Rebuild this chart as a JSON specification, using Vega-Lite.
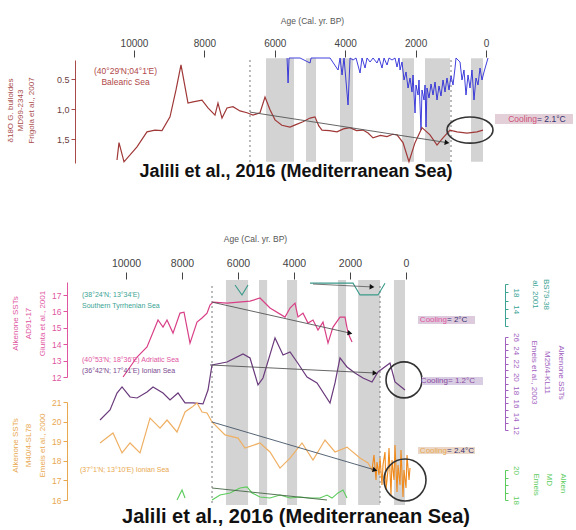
{
"$schema": "https://vega.github.io/schema/vega-lite/v6.json",
"width": 576, "height": 530, "autosize": "none", "padding": 0,
"background": "#ffffff",
"config": {"font": "Liberation Sans", "view": {"stroke": null}, "axis": {"grid": false, "labelFont": "Liberation Sans", "titleFont": "Liberation Sans"}},
"resolve": {"scale": {"x": "independent", "y": "independent", "color": "independent"}, "axis": {"x": "independent", "y": "independent"}, "legend": {"color": "independent"}},
"datasets": {
"bandsTop": [{"age":6250,"age2":5455},{"age":5114,"age2":4830},{"age":4148,"age2":3778},{"age":2386,"age2":2045},{"age":1733,"age2":1023},{"age":426,"age2":85}],
"bandsBot": [{"age":6430,"age2":5640},{"age":5250,"age2":4960},{"age":4250,"age2":3890},{"age":2430,"age2":2140},{"age":1710,"age2":930},{"age":430,"age2":36}],
"dashTop": [{"age":6705},{"age":994}],
"dashBot": [{"age":6928},{"age":928}],
"red": [{"age":10483,"d18o":1.85},{"age":10426,"d18o":1.56},{"age":10284,"d18o":1.88},{"age":9915,"d18o":1.63},{"age":9631,"d18o":1.38},{"age":9403,"d18o":1.35},{"age":9205,"d18o":1.36},{"age":8977,"d18o":1.13},{"age":8807,"d18o":0.68},{"age":8665,"d18o":0.26},{"age":8466,"d18o":0.90},{"age":8324,"d18o":0.88},{"age":8068,"d18o":0.85},{"age":7898,"d18o":0.98},{"age":7699,"d18o":1.10},{"age":7614,"d18o":0.90},{"age":7500,"d18o":1.15},{"age":7358,"d18o":0.98},{"age":7188,"d18o":0.96},{"age":6989,"d18o":1.03},{"age":6790,"d18o":1.06},{"age":6619,"d18o":1.10},{"age":6420,"d18o":1.06},{"age":6278,"d18o":0.80},{"age":6136,"d18o":1.01},{"age":5994,"d18o":1.18},{"age":5800,"d18o":1.27},{"age":5568,"d18o":1.30},{"age":5400,"d18o":1.26},{"age":5199,"d18o":1.21},{"age":5000,"d18o":1.15},{"age":4858,"d18o":1.13},{"age":4750,"d18o":1.28},{"age":4659,"d18o":1.35},{"age":4450,"d18o":1.36},{"age":4233,"d18o":1.38},{"age":4050,"d18o":1.33},{"age":3864,"d18o":1.31},{"age":3680,"d18o":1.36},{"age":3494,"d18o":1.35},{"age":3350,"d18o":1.40},{"age":3210,"d18o":1.48},{"age":3000,"d18o":1.44},{"age":2813,"d18o":1.46},{"age":2650,"d18o":1.42},{"age":2528,"d18o":1.43},{"age":2358,"d18o":1.56},{"age":2188,"d18o":1.88},{"age":2017,"d18o":1.56},{"age":1818,"d18o":1.31},{"age":1591,"d18o":1.43},{"age":1392,"d18o":1.60},{"age":1222,"d18o":1.48},{"age":1023,"d18o":1.35},{"age":824,"d18o":1.38},{"age":540,"d18o":1.40},{"age":256,"d18o":1.38},{"age":85,"d18o":1.35}],
"blue": [{"age":5652,"val":0},{"age":5623,"val":25},{"age":5595,"val":0},{"age":5282,"val":0},{"age":4998,"val":5},{"age":4970,"val":0},{"age":4430,"val":0},{"age":4203,"val":12},{"age":4146,"val":0},{"age":4090,"val":17},{"age":4033,"val":0},{"age":3919,"val":47},{"age":3862,"val":0},{"age":3777,"val":2},{"age":3692,"val":0},{"age":3578,"val":15},{"age":3522,"val":0},{"age":3436,"val":10},{"age":3380,"val":0},{"age":3294,"val":4},{"age":3209,"val":0},{"age":3096,"val":5},{"age":3039,"val":0},{"age":2954,"val":10},{"age":2897,"val":0},{"age":2812,"val":7},{"age":2755,"val":0},{"age":2670,"val":2},{"age":2584,"val":0},{"age":2528,"val":9},{"age":2471,"val":0},{"age":2442,"val":12},{"age":2386,"val":4},{"age":2329,"val":22},{"age":2272,"val":14},{"age":2215,"val":30},{"age":2158,"val":20},{"age":2102,"val":34},{"age":2073,"val":17},{"age":2016,"val":55},{"age":1988,"val":27},{"age":1931,"val":37},{"age":1903,"val":22},{"age":1846,"val":72},{"age":1818,"val":32},{"age":1761,"val":42},{"age":1732,"val":27},{"age":1704,"val":69},{"age":1676,"val":30},{"age":1619,"val":40},{"age":1562,"val":26},{"age":1505,"val":37},{"age":1448,"val":24},{"age":1392,"val":42},{"age":1335,"val":28},{"age":1278,"val":38},{"age":1221,"val":22},{"age":1164,"val":34},{"age":1108,"val":20},{"age":1051,"val":32},{"age":994,"val":18},{"age":937,"val":27},{"age":880,"val":10},{"age":852,"val":0},{"age":738,"val":4},{"age":682,"val":22},{"age":625,"val":12},{"age":568,"val":37},{"age":511,"val":17},{"age":454,"val":30},{"age":398,"val":12},{"age":341,"val":42},{"age":284,"val":20},{"age":227,"val":27},{"age":170,"val":10},{"age":114,"val":22},{"age":57,"val":14},{"age":0,"val":7},{"age":-57,"val":0}],
"pink": [{"age":10106,"sst":12.0},{"age":9606,"sst":13.22},{"age":9249,"sst":13.83},{"age":8856,"sst":15.48},{"age":8678,"sst":15.05},{"age":8535,"sst":15.48},{"age":8321,"sst":14.68},{"age":8071,"sst":15.90},{"age":7928,"sst":15.96},{"age":7714,"sst":14.07},{"age":7464,"sst":15.35},{"age":7285,"sst":15.60},{"age":7106,"sst":15.90},{"age":7000,"sst":16.39},{"age":6892,"sst":16.57},{"age":6392,"sst":16.51},{"age":5571,"sst":16.63},{"age":5214,"sst":16.82},{"age":4857,"sst":16.21},{"age":4321,"sst":15.66},{"age":4142,"sst":16.21},{"age":3964,"sst":16.51},{"age":3857,"sst":15.66},{"age":3678,"sst":15.90},{"age":3500,"sst":15.29},{"age":3321,"sst":15.48},{"age":3143,"sst":14.87},{"age":2964,"sst":15.35},{"age":2785,"sst":14.07},{"age":2607,"sst":15.05},{"age":2357,"sst":15.66},{"age":2178,"sst":15.66},{"age":2071,"sst":14.68},{"age":1928,"sst":14.13}],
"purple": [{"age":10928,"sst":13.51},{"age":10571,"sst":15.01},{"age":10321,"sst":17.57},{"age":10142,"sst":18.48},{"age":9856,"sst":16.97},{"age":9606,"sst":16.82},{"age":9249,"sst":17.72},{"age":9035,"sst":18.48},{"age":8678,"sst":17.57},{"age":8428,"sst":16.52},{"age":8142,"sst":17.57},{"age":7892,"sst":16.07},{"age":7606,"sst":16.07},{"age":7249,"sst":15.92},{"age":7071,"sst":18.02},{"age":6928,"sst":21.79},{"age":6392,"sst":22.24},{"age":5821,"sst":23.45},{"age":5571,"sst":22.84},{"age":5285,"sst":18.78},{"age":5107,"sst":19.83},{"age":4678,"sst":25.86},{"age":4392,"sst":23.30},{"age":4142,"sst":23.75},{"age":3892,"sst":22.24},{"age":3535,"sst":19.98},{"age":3178,"sst":19.08},{"age":2714,"sst":16.07},{"age":2535,"sst":19.08},{"age":2357,"sst":22.84},{"age":2107,"sst":21.49},{"age":1821,"sst":20.58},{"age":1536,"sst":19.83},{"age":1214,"sst":19.23},{"age":1000,"sst":20.73},{"age":571,"sst":22.09},{"age":393,"sst":19.23},{"age":36,"sst":18.02}],
"orange": [{"age":10928,"sst":18.91},{"age":10464,"sst":19.42},{"age":10142,"sst":18.40},{"age":9856,"sst":18.91},{"age":9499,"sst":18.40},{"age":9142,"sst":20.18},{"age":8785,"sst":19.67},{"age":8535,"sst":20.08},{"age":8178,"sst":19.47},{"age":7892,"sst":20.49},{"age":7642,"sst":20.74},{"age":7464,"sst":20.95},{"age":7285,"sst":20.49},{"age":7106,"sst":20.44},{"age":6928,"sst":19.98},{"age":6464,"sst":19.32},{"age":5999,"sst":19.16},{"age":5750,"sst":18.65},{"age":5214,"sst":18.91},{"age":4857,"sst":18.45},{"age":4500,"sst":17.63},{"age":4142,"sst":18.14},{"age":3714,"sst":18.91},{"age":3321,"sst":18.04},{"age":2893,"sst":19.06},{"age":2535,"sst":18.45},{"age":2107,"sst":18.70},{"age":1643,"sst":18.14},{"age":1357,"sst":17.89},{"age":1178,"sst":17.43}],
"orangeHR": [{"age":1214,"sst":17.53},{"age":1143,"sst":18.30},{"age":1071,"sst":17.02},{"age":1036,"sst":17.94},{"age":964,"sst":17.28},{"age":928,"sst":18.14},{"age":857,"sst":16.77},{"age":821,"sst":17.79},{"age":750,"sst":18.45},{"age":714,"sst":16.51},{"age":643,"sst":17.53},{"age":607,"sst":18.65},{"age":536,"sst":16.26},{"age":500,"sst":18.04},{"age":428,"sst":17.02},{"age":393,"sst":18.81},{"age":321,"sst":16.41},{"age":286,"sst":17.79},{"age":214,"sst":16.77},{"age":179,"sst":18.55},{"age":107,"sst":16.15},{"age":71,"sst":17.53},{"age":0,"sst":16.61},{"age":-36,"sst":18.30},{"age":-107,"sst":17.02},{"age":-143,"sst":17.63}],
"teal": [{"age":6107,"sst":19.76,"seg":"a"},{"age":5857,"sst":17.38,"seg":"a"},{"age":5643,"sst":19.76,"seg":"a"},{"age":3428,"sst":20.2,"seg":"b"},{"age":2714,"sst":20.2,"seg":"b"},{"age":1893,"sst":20.2,"seg":"b"},{"age":1643,"sst":17.4,"seg":"b"},{"age":1000,"sst":17.4,"seg":"b"},{"age":750,"sst":20.2,"seg":"b"}],
"green": [{"age":8178,"sst":18.0,"seg":"a"},{"age":7999,"sst":18.67,"seg":"a"},{"age":7892,"sst":18.13,"seg":"a"},{"age":6928,"sst":18.0,"seg":"b"},{"age":6642,"sst":18.33,"seg":"b"},{"age":6285,"sst":18.47,"seg":"b"},{"age":5928,"sst":18.8,"seg":"b"},{"age":5678,"sst":18.87,"seg":"b"},{"age":5499,"sst":18.47,"seg":"b"},{"age":5214,"sst":18.2,"seg":"b"},{"age":4857,"sst":18.13,"seg":"b"},{"age":4500,"sst":18.33,"seg":"b"},{"age":4142,"sst":18.13,"seg":"b"},{"age":3785,"sst":18.2,"seg":"b"},{"age":3428,"sst":18.13,"seg":"b"},{"age":3071,"sst":18.13,"seg":"b"},{"age":2821,"sst":18.33,"seg":"b"},{"age":2643,"sst":18.13,"seg":"b"},{"age":2428,"sst":18.47,"seg":"b"},{"age":2250,"sst":18.67,"seg":"b"},{"age":2107,"sst":18.13,"seg":"b"}]
},
"layer": [
{"data":{"name":"bandsTop"},"mark":{"type":"rect","color":"#d3d3d3"},
 "encoding":{"x":{"field":"age","type":"quantitative","scale":{"domain":[0,10000],"range":[486,134],"nice":false,"zero":false},
   "axis":{"orient":"top","offset":-57,"values":[0,2000,4000,6000,8000,10000],"format":"d","domain":false,"ticks":true,"tickSize":7,"tickColor":"#444444","labelFontSize":10,"labelColor":"#444444","labelPadding":2,"labelFlush":false,"labelOverlap":false,"grid":false,"title":"Age (Cal. yr. BP)","titleFontSize":8.5,"titleFontWeight":"normal","titleColor":"#555555","titleX":312,"titleY":-37,"titleAlign":"center","titleBaseline":"middle"}},
  "x2":{"field":"age2"},
  "y":{"datum":0.15,"type":"quantitative","scale":{"domain":[0.18,1.9],"range":[60,163],"nice":false,"zero":false},"axis":null},"y2":{"datum":1.88}}},
{"data":{"name":"dashTop"},"mark":{"type":"rule","color":"#777777","strokeDash":[2,3],"strokeWidth":1},
 "encoding":{"x":{"field":"age","type":"quantitative","scale":{"domain":[0,10000],"range":[486,134],"nice":false,"zero":false},"axis":null},
  "y":{"datum":0.18,"type":"quantitative","scale":{"domain":[0.18,1.9],"range":[60,163],"nice":false,"zero":false},"axis":null},"y2":{"datum":1.9}}},
{"data":{"name":"blue"},"mark":{"type":"line","color":"#2a2ad8","strokeWidth":0.9},
 "encoding":{"x":{"field":"age","type":"quantitative","scale":{"domain":[0,10000],"range":[486,134],"nice":false,"zero":false},"axis":null},
  "y":{"field":"val","type":"quantitative","scale":{"domain":[0,104],"range":[58,162],"nice":false,"zero":false},"axis":null}}},
{"data":{"name":"red"},"mark":{"type":"line","color":"#a03838","strokeWidth":1.2},
 "encoding":{"x":{"field":"age","type":"quantitative","scale":{"domain":[0,10000],"range":[486,134],"nice":false,"zero":false},"axis":null},
  "y":{"field":"d18o","type":"quantitative","scale":{"domain":[0.18,1.9],"range":[60,163],"nice":false,"zero":false},
   "axis":{"orient":"left","offset":-75,"values":[0.5,1.0,1.5],"labelExpr":"datum.value == 0.5 ? '0.5' : replace(format(datum.value, '.1f'), '.', ',')","domainColor":"#a84a4a","tickColor":"#a84a4a","tickSize":4,"labelColor":"#6a4040","labelFontSize":9,"labelPadding":2,"labelOverlap":false,"grid":false,"title":["δ18O G. bulloides","MD99-2343","Frigola et al., 2007"],"titleColor":"#a84a4a","titleFontSize":8,"titleFontWeight":"normal","titleLineHeight":10.5,"titleX":-69,"titleY":110,"titleAngle":-90,"titleAlign":"center","titleBaseline":"top"}}}},
{"data":{"values":[{"age":6705,"d18o":1.05},{"age":1108,"d18o":1.56}]},"mark":{"type":"line","color":"#555555","strokeWidth":0.9},
 "encoding":{"x":{"field":"age","type":"quantitative","scale":{"domain":[0,10000],"range":[486,134],"nice":false,"zero":false},"axis":null},
  "y":{"field":"d18o","type":"quantitative","scale":{"domain":[0.18,1.9],"range":[60,163],"nice":false,"zero":false},"axis":null}}},
{"data":{"values":[{"age":1108,"d18o":1.56}]},"mark":{"type":"point","shape":"triangle-right","filled":true,"color":"#111111","opacity":1,"size":30,"angle":9},
 "encoding":{"x":{"field":"age","type":"quantitative","scale":{"domain":[0,10000],"range":[486,134],"nice":false,"zero":false},"axis":null},
  "y":{"field":"d18o","type":"quantitative","scale":{"domain":[0.18,1.9],"range":[60,163],"nice":false,"zero":false},"axis":null}}},
{"data":{"values":[{"age":455,"d18o":1.35}]},"mark":{"type":"point","shape":"M-1,0A1,0.57,0,1,0,1,0A1,0.57,0,1,0,-1,0Z","filled":false,"stroke":"#333333","strokeWidth":1.6,"opacity":1,"size":2116},
 "encoding":{"x":{"field":"age","type":"quantitative","scale":{"domain":[0,10000],"range":[486,134],"nice":false,"zero":false},"axis":null},
  "y":{"field":"d18o","type":"quantitative","scale":{"domain":[0.18,1.9],"range":[60,163],"nice":false,"zero":false},"axis":null}}},
{"data":{"values":[{"age":10241,"d18o":0.363,"txt":"(40°29'N;04°1'E)"},{"age":10241,"d18o":0.547,"txt":"Balearic Sea"}]},"mark":{"type":"text","color":"#b04848","fontSize":8.5,"align":"center","baseline":"middle"},
 "encoding":{"x":{"field":"age","type":"quantitative","scale":{"domain":[0,10000],"range":[486,134],"nice":false,"zero":false},"axis":null},
  "y":{"field":"d18o","type":"quantitative","scale":{"domain":[0.18,1.9],"range":[60,163],"nice":false,"zero":false},"axis":null},"text":{"field":"txt"}}},
{"data":{"values":[{"age":5398,"d18o":2.05,"txt":"Jalili et al., 2016  (Mediterranean Sea)"}]},"mark":{"type":"text","color":"#111111","fontSize":18,"fontWeight":"bold","align":"center","baseline":"middle"},
 "encoding":{"x":{"field":"age","type":"quantitative","scale":{"domain":[0,10000],"range":[486,134],"nice":false,"zero":false},"axis":null},
  "y":{"field":"d18o","type":"quantitative","scale":{"domain":[0.18,1.9],"range":[60,163],"nice":false,"zero":false},"axis":null},"text":{"field":"txt"}}},
{"data":{"values":[{"age":-256,"age2":-2472,"d18o":1.08,"d2":1.25}]},"mark":{"type":"rect","color":"#e3cfd7"},
 "encoding":{"x":{"field":"age","type":"quantitative","scale":{"domain":[0,10000],"range":[486,134],"nice":false,"zero":false},"axis":null},"x2":{"field":"age2"},
  "y":{"field":"d18o","type":"quantitative","scale":{"domain":[0.18,1.9],"range":[60,163],"nice":false,"zero":false},"axis":null},"y2":{"field":"d2"}}},
{"data":{"values":[{"age":-1449,"d18o":1.165,"txt":"Cooling"}]},"mark":{"type":"text","color":"#d0507a","fontSize":8.5,"align":"right","baseline":"middle"},
 "encoding":{"x":{"field":"age","type":"quantitative","scale":{"domain":[0,10000],"range":[486,134],"nice":false,"zero":false},"axis":null},
  "y":{"field":"d18o","type":"quantitative","scale":{"domain":[0.18,1.9],"range":[60,163],"nice":false,"zero":false},"axis":null},"text":{"field":"txt"}}},
{"data":{"values":[{"age":-1449,"d18o":1.165,"txt":"= 2.1°C"}]},"mark":{"type":"text","color":"#303070","fontSize":8.5,"align":"left","baseline":"middle"},
 "encoding":{"x":{"field":"age","type":"quantitative","scale":{"domain":[0,10000],"range":[486,134],"nice":false,"zero":false},"axis":null},
  "y":{"field":"d18o","type":"quantitative","scale":{"domain":[0.18,1.9],"range":[60,163],"nice":false,"zero":false},"axis":null},"text":{"field":"txt"}}},

{"data":{"name":"bandsBot"},"mark":{"type":"rect","color":"#d3d3d3"},
 "encoding":{"x":{"field":"age","type":"quantitative","scale":{"domain":[0,10000],"range":[406,126],"nice":false,"zero":false},
   "axis":{"orient":"top","offset":-279,"values":[0,2000,4000,6000,8000,10000],"format":"d","domain":false,"ticks":true,"tickSize":7,"tickColor":"#444444","labelFontSize":10.5,"labelColor":"#444444","labelPadding":4,"labelFlush":false,"labelOverlap":false,"grid":false,"title":"Age (Cal. yr. BP)","titleFontSize":8.5,"titleFontWeight":"normal","titleColor":"#555555","titleX":255,"titleY":-41,"titleAlign":"center","titleBaseline":"middle"}},
  "x2":{"field":"age2"},
  "y":{"datum":0,"type":"quantitative","scale":{"domain":[0,1],"range":[505,280],"nice":false,"zero":false},"axis":null},"y2":{"datum":1}}},
{"data":{"name":"dashBot"},"mark":{"type":"rule","color":"#777777","strokeDash":[2,3],"strokeWidth":1},
 "encoding":{"x":{"field":"age","type":"quantitative","scale":{"domain":[0,10000],"range":[406,126],"nice":false,"zero":false},"axis":null},
  "y":{"datum":0.009,"type":"quantitative","scale":{"domain":[0,1],"range":[505,280],"nice":false,"zero":false},"axis":null},"y2":{"datum":0.987}}},
{"data":{"name":"pink"},"mark":{"type":"line","color":"#d83f86","strokeWidth":1.2},
 "encoding":{"x":{"field":"age","type":"quantitative","scale":{"domain":[0,10000],"range":[406,126],"nice":false,"zero":false},"axis":null},
  "y":{"field":"sst","type":"quantitative","scale":{"domain":[12,17.8],"range":[377,282],"nice":false,"zero":false},
   "axis":{"orient":"left","offset":-67,"values":[12,13,14,15,16,17],"domainColor":"#e0559f","tickColor":"#e0559f","tickSize":4,"labelColor":"#e0559f","labelFontSize":8.5,"labelPadding":2,"labelOverlap":false,"grid":false,"title":["Alkenone SSTs","AD91-17","Giunta et al., 2001"],"titleColor":"#e0559f","titleFontSize":8,"titleFontWeight":"normal","titleLineHeight":13.5,"titleX":-56,"titleY":323,"titleAngle":-90,"titleAlign":"center","titleBaseline":"top"}}}},
{"data":{"name":"purple"},"mark":{"type":"line","color":"#6a3a7c","strokeWidth":1.2},
 "encoding":{"x":{"field":"age","type":"quantitative","scale":{"domain":[0,10000],"range":[406,126],"nice":false,"zero":false},"axis":null},
  "y":{"field":"sst","type":"quantitative","scale":{"domain":[12,26],"range":[430,337],"nice":false,"zero":false},
   "axis":{"orient":"right","offset":-71,"values":[12,13,14,15,16,17,18,19,20,21,22,23,24,25,26],"labelExpr":"datum.value % 2 == 0 ? datum.label : ''","domainColor":"#a060c0","tickColor":"#a060c0","tickSize":3,"labelColor":"#a060c0","labelFontSize":8,"labelPadding":3,"labelAngle":90,"labelAlign":"center","labelBaseline":"bottom","labelOverlap":false,"grid":false,"title":["Alkenone SSTs","M25/4-KL11","Emeis et al., 2003"],"titleColor":"#a060c0","titleFontSize":8,"titleFontWeight":"normal","titleLineHeight":13.5,"titleX":59,"titleY":372,"titleAngle":90,"titleAlign":"center","titleBaseline":"top"}}}},
{"data":{"name":"orange"},"mark":{"type":"line","color":"#efb064","strokeWidth":1.2},
 "encoding":{"x":{"field":"age","type":"quantitative","scale":{"domain":[0,10000],"range":[406,126],"nice":false,"zero":false},"axis":null},
  "y":{"field":"sst","type":"quantitative","scale":{"domain":[16,21],"range":[500,402],"nice":false,"zero":false},
   "axis":{"orient":"left","offset":-67,"values":[16,17,18,19,20,21],"domainColor":"#e8a850","tickColor":"#e8a850","tickSize":4,"labelColor":"#e8a850","labelFontSize":8.5,"labelPadding":2,"labelOverlap":false,"grid":false,"title":["Alkenone SSTs","M40/4-SL78","Emeis et al., 2000"],"titleColor":"#e8a850","titleFontSize":8,"titleFontWeight":"normal","titleLineHeight":13.5,"titleX":-56,"titleY":445,"titleAngle":-90,"titleAlign":"center","titleBaseline":"top"}}}},
{"data":{"name":"orangeHR"},"mark":{"type":"line","color":"#f08a1c","strokeWidth":1.1},
 "encoding":{"x":{"field":"age","type":"quantitative","scale":{"domain":[0,10000],"range":[406,126],"nice":false,"zero":false},"axis":null},
  "y":{"field":"sst","type":"quantitative","scale":{"domain":[16,21],"range":[500,402],"nice":false,"zero":false},"axis":null}}},
{"data":{"name":"teal"},"mark":{"type":"line","color":"#3a9a8a","strokeWidth":1.1},
 "encoding":{"x":{"field":"age","type":"quantitative","scale":{"domain":[0,10000],"range":[406,126],"nice":false,"zero":false},"axis":null},
  "detail":{"field":"seg"},
  "y":{"field":"sst","type":"quantitative","scale":{"domain":[10,20],"range":[326,284],"nice":false,"zero":false},
   "axis":{"orient":"right","offset":-71,"values":[10,12,14,16,18,20],"labelExpr":"datum.value == 14 || datum.value == 18 ? datum.label : ''","domainColor":"#3aa393","tickColor":"#3aa393","tickSize":3,"labelColor":"#3aa393","labelFontSize":8,"labelPadding":3,"labelAngle":90,"labelAlign":"center","labelBaseline":"bottom","labelOverlap":false,"grid":false,"title":["BS79-38","al. 2001"],"titleColor":"#3aa393","titleFontSize":8,"titleFontWeight":"normal","titleLineHeight":11,"titleX":44,"titleY":294,"titleAngle":90,"titleAlign":"center","titleBaseline":"top"}}}},
{"data":{"name":"green"},"mark":{"type":"line","color":"#5ccc5c","strokeWidth":1.1},
 "encoding":{"x":{"field":"age","type":"quantitative","scale":{"domain":[0,10000],"range":[406,126],"nice":false,"zero":false},"axis":null},
  "detail":{"field":"seg"},
  "y":{"field":"sst","type":"quantitative","scale":{"domain":[18,20],"range":[500,470],"nice":false,"zero":false},
   "axis":{"orient":"right","offset":-71,"values":[18,18.5,19,19.5,20],"format":".0f","labelExpr":"datum.value == 18 || datum.value == 20 ? datum.label : ''","domainColor":"#5ccc5c","tickColor":"#5ccc5c","tickSize":3,"labelColor":"#5ccc5c","labelFontSize":8,"labelPadding":3,"labelAngle":90,"labelAlign":"center","labelBaseline":"bottom","labelOverlap":false,"grid":false,"title":["Alken","MD","Emeis"],"titleColor":"#5ccc5c","titleFontSize":8,"titleFontWeight":"normal","titleLineHeight":13.5,"titleX":61,"titleY":473,"titleAngle":90,"titleAlign":"left","titleBaseline":"top"}}}},
{"data":{"values":[{"age":6928,"sst":16.57},{"age":2000,"sst":14.68}]},"mark":{"type":"line","color":"#555555","strokeWidth":0.9},
 "encoding":{"x":{"field":"age","type":"quantitative","scale":{"domain":[0,10000],"range":[406,126],"nice":false,"zero":false},"axis":null},
  "y":{"field":"sst","type":"quantitative","scale":{"domain":[12,17.8],"range":[377,282],"nice":false,"zero":false},"axis":null}}},
{"data":{"values":[{"age":2000,"sst":14.68}]},"mark":{"type":"point","shape":"triangle-right","filled":true,"color":"#111111","opacity":1,"size":30,"angle":13},
 "encoding":{"x":{"field":"age","type":"quantitative","scale":{"domain":[0,10000],"range":[406,126],"nice":false,"zero":false},"axis":null},
  "y":{"field":"sst","type":"quantitative","scale":{"domain":[12,17.8],"range":[377,282],"nice":false,"zero":false},"axis":null}}},
{"data":{"values":[{"age":7000,"sst":21.79},{"age":1107,"sst":20.58}]},"mark":{"type":"line","color":"#555555","strokeWidth":0.9},
 "encoding":{"x":{"field":"age","type":"quantitative","scale":{"domain":[0,10000],"range":[406,126],"nice":false,"zero":false},"axis":null},
  "y":{"field":"sst","type":"quantitative","scale":{"domain":[12,26],"range":[430,337],"nice":false,"zero":false},"axis":null}}},
{"data":{"values":[{"age":1107,"sst":20.58}]},"mark":{"type":"point","shape":"triangle-right","filled":true,"color":"#111111","opacity":1,"size":30,"angle":3},
 "encoding":{"x":{"field":"age","type":"quantitative","scale":{"domain":[0,10000],"range":[406,126],"nice":false,"zero":false},"axis":null},
  "y":{"field":"sst","type":"quantitative","scale":{"domain":[12,26],"range":[430,337],"nice":false,"zero":false},"axis":null}}},
{"data":{"values":[{"age":6928,"sst":19.98},{"age":1107,"sst":17.53}]},"mark":{"type":"line","color":"#445566","strokeWidth":0.9},
 "encoding":{"x":{"field":"age","type":"quantitative","scale":{"domain":[0,10000],"range":[406,126],"nice":false,"zero":false},"axis":null},
  "y":{"field":"sst","type":"quantitative","scale":{"domain":[16,21],"range":[500,402],"nice":false,"zero":false},"axis":null}}},
{"data":{"values":[{"age":1107,"sst":17.53}]},"mark":{"type":"point","shape":"triangle-right","filled":true,"color":"#111111","opacity":1,"size":30,"angle":16},
 "encoding":{"x":{"field":"age","type":"quantitative","scale":{"domain":[0,10000],"range":[406,126],"nice":false,"zero":false},"axis":null},
  "y":{"field":"sst","type":"quantitative","scale":{"domain":[16,21],"range":[500,402],"nice":false,"zero":false},"axis":null}}},
{"data":{"values":[{"age":6928,"sst":18.8},{"age":2821,"sst":18.0}]},"mark":{"type":"line","color":"#446644","strokeWidth":0.9},
 "encoding":{"x":{"field":"age","type":"quantitative","scale":{"domain":[0,10000],"range":[406,126],"nice":false,"zero":false},"axis":null},
  "y":{"field":"sst","type":"quantitative","scale":{"domain":[18,20],"range":[500,470],"nice":false,"zero":false},"axis":null}}},
{"data":{"values":[{"age":3321,"sst":20.0},{"age":1214,"sst":19.3}]},"mark":{"type":"line","color":"#666666","strokeWidth":0.9},
 "encoding":{"x":{"field":"age","type":"quantitative","scale":{"domain":[0,10000],"range":[406,126],"nice":false,"zero":false},"axis":null},
  "y":{"field":"sst","type":"quantitative","scale":{"domain":[10,20],"range":[326,284],"nice":false,"zero":false},"axis":null}}},
{"data":{"values":[{"age":1214,"sst":19.3}]},"mark":{"type":"point","shape":"triangle-right","filled":true,"color":"#111111","opacity":1,"size":30,"angle":3},
 "encoding":{"x":{"field":"age","type":"quantitative","scale":{"domain":[0,10000],"range":[406,126],"nice":false,"zero":false},"axis":null},
  "y":{"field":"sst","type":"quantitative","scale":{"domain":[10,20],"range":[326,284],"nice":false,"zero":false},"axis":null}}},
{"data":{"values":[{"age":71,"fy":0.556}]},"mark":{"type":"point","shape":"circle","filled":false,"stroke":"#333333","strokeWidth":1.6,"opacity":1,"size":1296},
 "encoding":{"x":{"field":"age","type":"quantitative","scale":{"domain":[0,10000],"range":[406,126],"nice":false,"zero":false},"axis":null},
  "y":{"field":"fy","type":"quantitative","scale":{"domain":[0,1],"range":[505,280],"nice":false,"zero":false},"axis":null}}},
{"data":{"values":[{"age":36,"fy":0.111}]},"mark":{"type":"point","shape":"circle","filled":false,"stroke":"#333333","strokeWidth":1.6,"opacity":1,"size":1764},
 "encoding":{"x":{"field":"age","type":"quantitative","scale":{"domain":[0,10000],"range":[406,126],"nice":false,"zero":false},"axis":null},
  "y":{"field":"fy","type":"quantitative","scale":{"domain":[0,1],"range":[505,280],"nice":false,"zero":false},"axis":null}}},
{"data":{"values":[{"age":11571,"fy":0.933,"txt":"(38°24'N; 13°34'E)","s":"teal"},{"age":11571,"fy":0.884,"txt":"Southern Tyrrhenian Sea","s":"teal"},{"age":11571,"fy":0.644,"txt":"(40°53'N; 18°36'E) Adriatic Sea","s":"pink"},{"age":11571,"fy":0.596,"txt":"(36°42'N; 17°41'E) Ionian Sea","s":"purple"},{"age":11642,"fy":0.156,"txt":"(37°1'N; 13°10'E) Ionian Sea","s":"orange"}]},
 "mark":{"type":"text","fontSize":7,"align":"left","baseline":"middle"},
 "encoding":{"x":{"field":"age","type":"quantitative","scale":{"domain":[0,10000],"range":[406,126],"nice":false,"zero":false},"axis":null},
  "y":{"field":"fy","type":"quantitative","scale":{"domain":[0,1],"range":[505,280],"nice":false,"zero":false},"axis":null},
  "text":{"field":"txt"},
  "color":{"field":"s","type":"nominal","scale":{"domain":["teal","pink","purple","orange"],"range":["#3aa393","#e0559f","#7a4a90","#e8a850"]},"legend":null}}},
{"data":{"values":[{"age":3928,"fy":-0.053,"txt":"Jalili et al., 2016  (Mediterranean Sea)"}]},"mark":{"type":"text","color":"#111111","fontSize":20,"fontWeight":"bold","align":"center","baseline":"middle"},
 "encoding":{"x":{"field":"age","type":"quantitative","scale":{"domain":[0,10000],"range":[406,126],"nice":false,"zero":false},"axis":null},
  "y":{"field":"fy","type":"quantitative","scale":{"domain":[0,1],"range":[505,280],"nice":false,"zero":false},"axis":null},"text":{"field":"txt"}}},
{"data":{"values":[{"age":-429,"age2":-2464,"fy":0.804,"fy2":0.840,"s":"pink"},{"age":-571,"age2":-2750,"fy":0.533,"fy2":0.569,"s":"purple"},{"age":-429,"age2":-2464,"fy":0.227,"fy2":0.258,"s":"orange"}]},
 "mark":{"type":"rect"},
 "encoding":{"x":{"field":"age","type":"quantitative","scale":{"domain":[0,10000],"range":[406,126],"nice":false,"zero":false},"axis":null},"x2":{"field":"age2"},
  "y":{"field":"fy","type":"quantitative","scale":{"domain":[0,1],"range":[505,280],"nice":false,"zero":false},"axis":null},"y2":{"field":"fy2"},
  "color":{"field":"s","type":"nominal","scale":{"domain":["pink","purple","orange"],"range":["#ddcbdd","#d8cde2","#ead7c8"]},"legend":null}}},
{"data":{"values":[{"age":-1464,"fy":0.822,"txt":"Cooling","s":"pink"},{"age":-1500,"fy":0.551,"txt":"Cooling","s":"purple"},{"age":-1464,"fy":0.242,"txt":"Cooling","s":"orange"}]},
 "mark":{"type":"text","fontSize":8,"align":"right","baseline":"middle"},
 "encoding":{"x":{"field":"age","type":"quantitative","scale":{"domain":[0,10000],"range":[406,126],"nice":false,"zero":false},"axis":null},
  "y":{"field":"fy","type":"quantitative","scale":{"domain":[0,1],"range":[505,280],"nice":false,"zero":false},"axis":null},"text":{"field":"txt"},
  "color":{"field":"s","type":"nominal","scale":{"domain":["pink","purple","orange"],"range":["#e0559f","#8a4aa0","#e8a850"]},"legend":null}}},
{"data":{"values":[{"age":-1464,"fy":0.822,"txt":"= 2°C","s":"pink"},{"age":-1500,"fy":0.551,"txt":"= 1.2°C","s":"purple"},{"age":-1464,"fy":0.242,"txt":"= 2.4°C","s":"orange"}]},
 "mark":{"type":"text","fontSize":8,"align":"left","baseline":"middle"},
 "encoding":{"x":{"field":"age","type":"quantitative","scale":{"domain":[0,10000],"range":[406,126],"nice":false,"zero":false},"axis":null},
  "y":{"field":"fy","type":"quantitative","scale":{"domain":[0,1],"range":[505,280],"nice":false,"zero":false},"axis":null},"text":{"field":"txt"},
  "color":{"field":"s","type":"nominal","scale":{"domain":["pink","purple","orange"],"range":["#303070","#8a4aa0","#303070"]},"legend":null}}}
]
}
